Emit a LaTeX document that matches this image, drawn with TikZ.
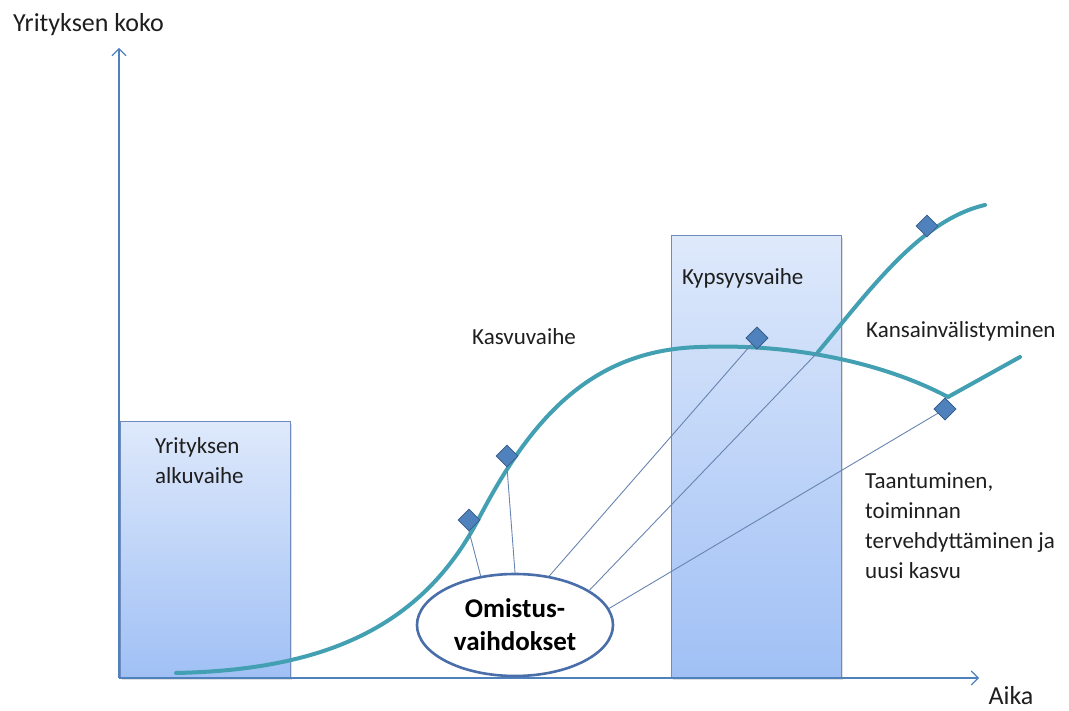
\documentclass[tikz,border=0pt]{standalone}
\usepackage{fontspec}
\setmainfont{Carlito}
\usepackage{xcolor}
\usepackage{tikz}
\usetikzlibrary{shapes.geometric, arrows.meta, positioning, shadows}
\definecolor{mycurve}{RGB}{66,160,178}
\definecolor{myaxis}{RGB}{79,129,189}
\definecolor{mydiam}{RGB}{79,129,189}
\definecolor{mydiamedge}{RGB}{56,93,138}
\definecolor{mylink}{RGB}{104,132,176}
\definecolor{myedge}{RGB}{74,110,170}
\definecolor{boxtop}{RGB}{222,233,251}
\definecolor{boxbot}{RGB}{160,192,245}
\definecolor{boxline}{RGB}{112,140,190}
\definecolor{mytext}{RGB}{30,30,30}
\tikzset{
  stagebox/.style={rectangle, draw=boxline, top color=boxtop, bottom color=boxbot,
    line width=0.8pt, anchor=south west, inner sep=0pt,
    drop shadow={opacity=0.25, shadow xshift=2pt, shadow yshift=-2pt}},
  lbl/.style={font=\fontsize{23}{30}\selectfont, text=mytext, inner sep=0pt, align=left},
  axislbl/.style={lbl, font=\fontsize{26}{30}\selectfont},
  turnpoint/.style={diamond, draw=mydiamedge, fill=mydiam, minimum size=22pt,
    inner sep=0pt, line width=0.6pt},
  ownnode/.style={ellipse, draw=myedge, fill=white, line width=2.6pt,
    minimum width=196pt, minimum height=102pt, inner sep=0pt,
    font=\fontsize{27}{33}\selectfont\bfseries, align=center},
  link/.style={color=mylink, line width=0.9pt},
  axis/.style={color=myaxis, line width=1.1pt, -{Straight Barb[length=7pt, width=14pt]}},
  growth/.style={color=mycurve, line width=4pt, line cap=round}
}
\begin{document}
\begin{tikzpicture}[x=1pt, y=-1pt]
  \useasboundingbox (0,0) rectangle (1069,711);

  % ── Axes ──────────────────────────────────────────────────────────────────
  \coordinate (o) at (119,678);
  \coordinate (ytip) at (119,48);
  \coordinate (xtip) at (979,678);
  \node[axislbl, anchor=west] (ylab) at (13,25) {Yrityksen koko};
  \node[axislbl] (xlab) at (1011,696) {Aika};

  % ── Phase boxes ───────────────────────────────────────────────────────────
  \node[stagebox, minimum width=170pt, minimum height=256pt] (alku) at (120,678) {};
  \node[stagebox, minimum width=170pt, minimum height=442pt] (kypsyys) at (671,678) {};
  \node[lbl, anchor=north west] (alkutxt) at (155,437) {Yrityksen\\alkuvaihe};
  \node[lbl, anchor=west] (kypsyystxt) at (682,278) {Kypsyysvaihe};

  \draw[axis] (o) -- (ytip);
  \draw[axis] (o) -- (xtip);

  % ── Growth curve and its branches ─────────────────────────────────────────
  \coordinate (split) at (818,352);
  \coordinate (dip) at (948,397);
  \draw[growth] (176,673) .. controls (320,670) and (420,630) .. (478,520)
    .. controls (530,420) and (590,350) .. (700,347)
    .. controls (800,343) and (890,366) .. (dip);
  \draw[growth] (dip) -- (1020,357);
  \draw[growth] (split) .. controls (870,290) and (920,220) .. (985,205);

  % ── Ownership changes ─────────────────────────────────────────────────────
  \node[ownnode] (own) at (515,625) {Omistus-\\vaihdokset};
  \node[turnpoint] (d1) at (469,520) {};
  \node[turnpoint] (d2) at (507,456) {};
  \node[turnpoint] (d3) at (757,338) {};
  \node[turnpoint] (d4) at (927,226) {};
  \node[turnpoint] (d5) at (945,409) {};
  \draw[link] (own.125) -- (d1.south);
  \draw[link] (own.90) -- (d2.south);
  \draw[link] (own.55) -- (d3.center);
  \draw[link] (own.25) -- (split);
  \draw[link] (own.10) -- (d5.center);
  \node[turnpoint] at (d3) {};
  \node[turnpoint] at (d5) {};

  % ── Labels ────────────────────────────────────────────────────────────────
  \node[lbl] (kasvu) at (524,337) {Kasvuvaihe};
  \node[lbl, anchor=west] (kv) at (866,331) {Kansainvälistyminen};
  \node[lbl, anchor=north west] (taant) at (865,472)
    {Taantuminen,\\toiminnan\\tervehdyttäminen ja\\uusi kasvu};
\end{tikzpicture}
\end{document}
